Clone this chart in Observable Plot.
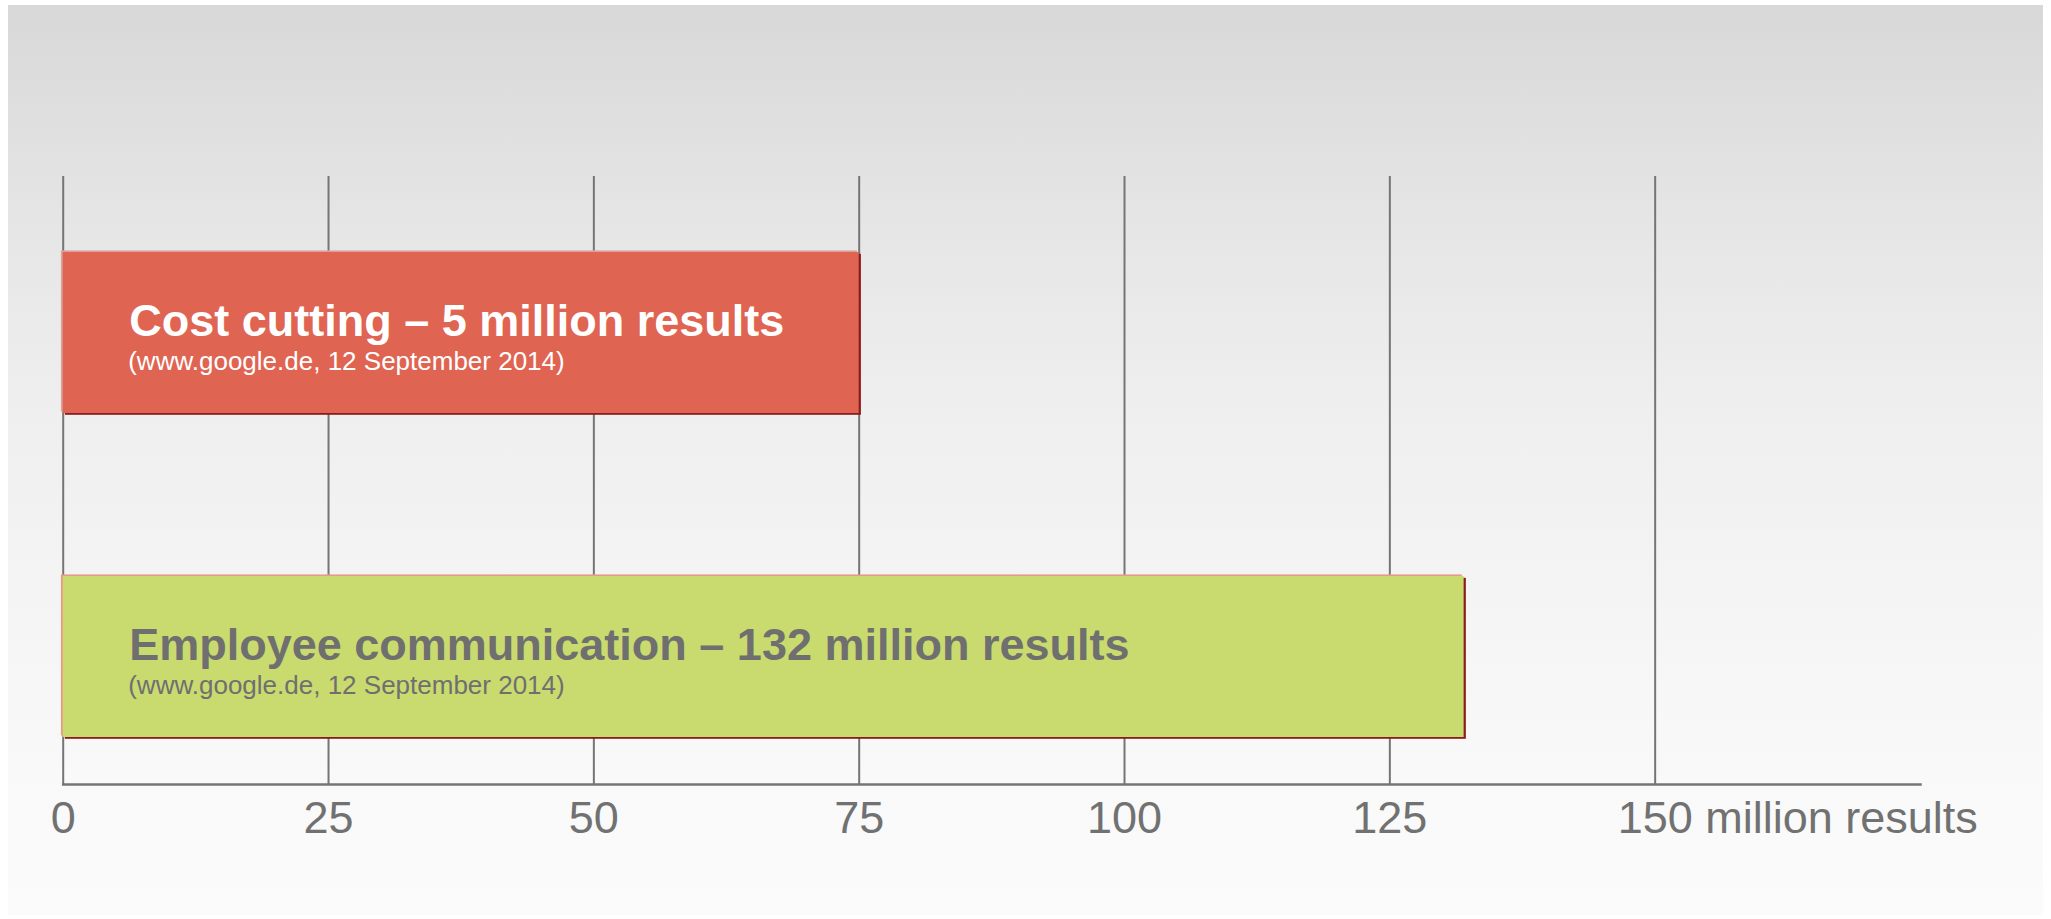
<!DOCTYPE html>
<html>
<head>
<meta charset="utf-8">
<script src="https://cdn.jsdelivr.net/npm/d3@7"></script>
<script src="https://cdn.jsdelivr.net/npm/@observablehq/plot@0.6"></script>
<style>
  html, body { margin: 0; padding: 0; background: #ffffff; }
  #wrap { position: relative; width: 2051px; height: 919px; overflow: hidden; }
  #panel {
    position: absolute; left: 8px; top: 5px; width: 2035px; height: 910px;
    background: linear-gradient(to bottom, #d8d8d8 0%, #e6e6e6 25%, #efefef 45%, #f5f5f5 68%, #f9f9f9 85%, #fbfbfb 100%);
  }
  #chart { position: absolute; left: 0; top: 0; }
</style>
</head>
<body>
<div id="wrap">
  <div id="panel"></div>
  <div id="chart"></div>
</div>
<script>
// Google search hits for two terms, in million results
const categories = ["Cost cutting", "Employee communication"];
const results = [75, 132];
const headlines = [
  "Cost cutting – 5 million results",
  "Employee communication – 132 million results"
];
const sources = [
  "(www.google.de, 12 September 2014)",
  "(www.google.de, 12 September 2014)"
];

// x axis
const tickValues = [0, 25, 50, 75, 100, 125, 150];
const unitLabel = "million results";

const rows = categories.map((c, i) => ({
  category: c,
  value: results[i],
  headline: headlines[i],
  source: sources[i]
}));

// styling
const barFill = {"Cost cutting": "#e06452", "Employee communication": "#c9da6f"};
const edgeLight = {"Cost cutting": "#d9a29a", "Employee communication": "#e89a8a"};
const textFill = {"Cost cutting": "#ffffff", "Employee communication": "#6f6f6f"};
const gray = "#757575";
const lastTick = tickValues[tickValues.length - 1];

const chart = Plot.plot({
  width: 2051,
  height: 919,
  marginLeft: 62.7,
  marginRight: 131,
  marginTop: 176,
  marginBottom: 135,
  style: {
    background: "transparent",
    fontFamily: "'Liberation Sans', Arial, Helvetica, sans-serif",
    overflow: "visible"
  },
  x: {domain: [0, 175], axis: null},
  y: {domain: categories, paddingInner: 0.502, paddingOuter: 0.1875, align: 0.616, axis: null},
  marks: [
    // vertical grid lines
    Plot.ruleX(tickValues, {stroke: gray, strokeWidth: 2}),
    // bar edges (dark lower-right shadow, light upper-left rim)
    Plot.barX(rows, {x: "value", y: "category", fill: "#8c1c1c", dx: 2.2, dy: 1.8}),
    Plot.barX(rows, {x: "value", y: "category", fill: d => edgeLight[d.category], dx: -1.8, dy: -1.6}),
    // bars
    Plot.barX(rows, {x: "value", y: "category", fill: d => barFill[d.category]}),
    // baseline
    Plot.frame({anchor: "bottom", stroke: gray, strokeWidth: 2.5}),
    // bar headlines
    Plot.text(rows, {
      x: 0, y: "category", text: "headline", textAnchor: "start", lineAnchor: "bottom",
      dx: 66, dy: 3, fontSize: 45, fontWeight: "bold", fill: d => textFill[d.category]
    }),
    Plot.text(rows, {
      x: 0, y: "category", text: "source", textAnchor: "start", lineAnchor: "bottom",
      dx: 65, dy: 37, fontSize: 26, fill: d => textFill[d.category]
    }),
    // tick labels
    Plot.text(tickValues.filter(d => d !== lastTick), {
      x: d => d, text: d => String(d), frameAnchor: "bottom", lineAnchor: "bottom",
      textAnchor: "middle", dy: 48, fontSize: 45, fill: "#717171"
    }),
    Plot.text([lastTick], {
      x: d => d, text: d => `${d} ${unitLabel}`, frameAnchor: "bottom", lineAnchor: "bottom",
      textAnchor: "start", dx: -37.5, dy: 48, fontSize: 45, fill: "#717171"
    })
  ]
});

document.getElementById("chart").appendChild(chart);
</script>
</body>
</html>
